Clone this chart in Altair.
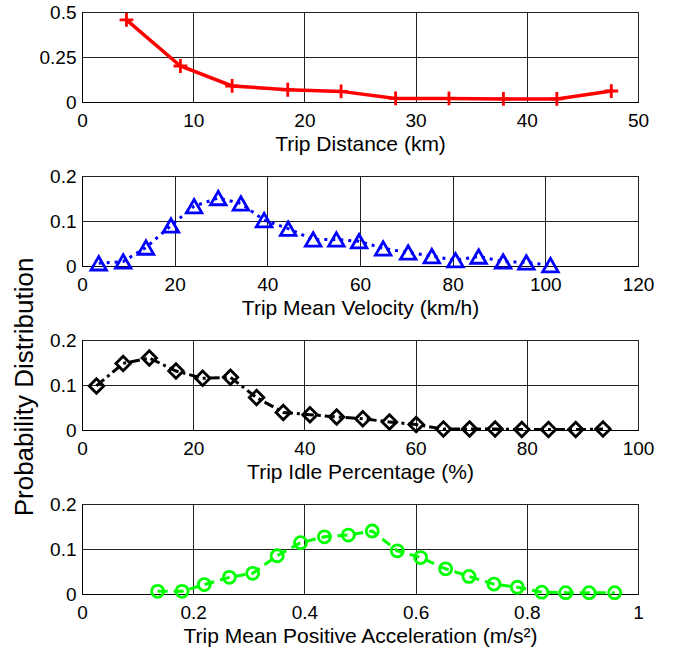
import altair as alt
import pandas as pd

FONT = "Liberation Sans"

# Trip distance distribution
dist_km = [4.0, 8.85, 13.5, 18.5, 23.3, 28.2, 33.0, 37.9, 42.7, 47.6]
dist_p = [0.456, 0.200, 0.089, 0.068, 0.059, 0.020, 0.020, 0.017, 0.017, 0.061]

# Trip mean velocity distribution
vel_kmh = [3.6, 8.9, 13.8, 19.2, 24.2, 29.4, 34.3, 39.3, 44.5, 49.9,
           54.9, 59.8, 65.0, 70.4, 75.5, 80.6, 85.6, 90.9, 95.9, 101.1]
vel_p = [0.006, 0.010, 0.041, 0.090, 0.133, 0.151, 0.139, 0.102, 0.083, 0.059,
         0.059, 0.055, 0.039, 0.030, 0.022, 0.013, 0.021, 0.010, 0.008, 0.002]

# Trip idle percentage distribution
idle_pct = [2.6, 7.4, 12.1, 16.9, 21.7, 26.7, 31.4, 36.2, 41.0, 45.8,
            50.5, 55.3, 60.1, 65.0, 69.7, 74.3, 79.1, 83.9, 88.8, 93.7]
idle_p = [0.098, 0.148, 0.160, 0.131, 0.115, 0.117, 0.072, 0.039, 0.034, 0.029,
          0.025, 0.018, 0.012, 0.002, 0.002, 0.002, 0.001, 0.001, 0.001, 0.002]

# Trip mean positive acceleration distribution
acc_ms2 = [0.136, 0.180, 0.220, 0.265, 0.307, 0.351, 0.393, 0.436, 0.479, 0.522,
           0.567, 0.609, 0.654, 0.696, 0.741, 0.783, 0.827, 0.870, 0.912, 0.958]
acc_p = [0.006, 0.006, 0.021, 0.037, 0.046, 0.085, 0.114, 0.127, 0.131, 0.140,
         0.096, 0.081, 0.056, 0.039, 0.022, 0.015, 0.004, 0.003, 0.003, 0.003]

CROSS = "M-1,0H1M0,-1V1"
PLAIN = "'' + datum.value"   # plain number text: 0, 0.25, 10, 1


def panel(xs, ps, xtitle, xdom, xticks, ydom, yticks, color, dash, shape, size,
          lw=3):
    df = pd.DataFrame({"x": xs, "p": ps})
    base = alt.Chart(df).encode(
        x=alt.X("x:Q",
                scale=alt.Scale(domain=xdom, nice=False, zero=False),
                axis=alt.Axis(values=xticks, labelExpr=PLAIN, title=xtitle,
                              labelPadding=9, titlePadding=3)),
        y=alt.Y("p:Q",
                scale=alt.Scale(domain=ydom, nice=False, zero=False),
                axis=alt.Axis(values=yticks, labelExpr=PLAIN, title=None,
                              labelPadding=6)),
    )
    line_kw = dict(color=color, strokeWidth=lw)
    if dash:
        line_kw["strokeDash"] = dash
    line = base.mark_line(**line_kw)
    pts = base.mark_point(shape=shape, size=size, filled=False,
                          strokeWidth=2.8, color=color, opacity=1)
    return alt.layer(line, pts).properties(width=556, height=90)


p1 = panel(dist_km, dist_p, "Trip Distance (km)", [0, 50], [0, 10, 20, 30, 40, 50],
           [0, 0.5], [0, 0.25, 0.5], "#ff0000", None, CROSS, 190, lw=3.5)
p2 = panel(vel_kmh, vel_p, "Trip Mean Velocity (km/h)", [0, 120],
           [0, 20, 40, 60, 80, 100, 120], [0, 0.2], [0, 0.1, 0.2],
           "#0000ff", [3, 5], "triangle-up", 240)
p3 = panel(idle_pct, idle_p, "Trip Idle Percentage (%)", [0, 100],
           [0, 20, 40, 60, 80, 100], [0, 0.2], [0, 0.1, 0.2],
           "#000000", [10, 4, 3, 4], "diamond", 210)
p4 = panel(acc_ms2, acc_p, "Trip Mean Positive Acceleration (m/s²)", [0, 1],
           [0, 0.2, 0.4, 0.6, 0.8, 1], [0, 0.2], [0, 0.1, 0.2],
           "#00ff00", [10, 6], "circle", 145)

# Shared y-axis title, drawn once beside the third panel
ylabel = alt.Chart(pd.DataFrame({"t": ["Probability Distribution"]})).mark_text(
    angle=270, fontSize=26, font=FONT, color="black", align="center",
    baseline="middle").encode(text="t:N", x=alt.value(-57), y=alt.value(47))
p3 = alt.layer(p3, ylabel)

chart = alt.vconcat(p1, p2, p3, p4, spacing=74, bounds="flush").properties(
    padding={"left": 11, "top": 2, "right": 5, "bottom": 5},
    background="white",
).configure_view(stroke="black", strokeWidth=1).configure_axis(
    labelFont=FONT, titleFont=FONT, labelFontSize=19, titleFontSize=21,
    labelColor="black", titleColor="black", titleFontWeight="normal",
    domainColor="black", domainWidth=1, gridColor="#222222", gridWidth=1,
    gridOpacity=1, ticks=False, labelOverlap=False, labelFlush=False,
    labelBound=False,
)

chart.save("out.html", embed_options={"renderer": "svg", "actions": False})
